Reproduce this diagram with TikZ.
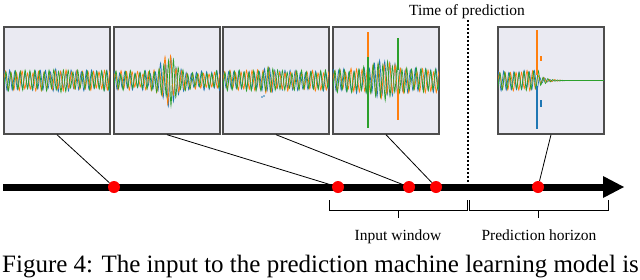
\documentclass[tikz,border=0pt]{standalone}
\usepackage{fontspec}
\setmainfont{Liberation Serif}
\definecolor{cb}{HTML}{1F77B4}
\definecolor{co}{HTML}{FF7F0E}
\definecolor{cg}{HTML}{2CA02C}
\definecolor{panelbg}{HTML}{EAEAF2}
\definecolor{panelbd}{HTML}{4D4D4D}
\begin{document}
\begin{tikzpicture}[x=1pt,y=-1pt,
  panel/.style={draw=panelbd,line width=1.4pt,fill=panelbg,rectangle,inner sep=0pt,minimum width=106pt,minimum height=107pt},
  dot/.style={circle,fill=red,draw=none,inner sep=0pt,minimum size=12pt},
  conn/.style={line width=0.8pt,black},
  brk/.style={line width=1pt,black},
  sigl/.style={line width=0.7pt},
  spike/.style={line width=1.1pt},
  lab/.style={inner sep=0pt,anchor=base,font=\fontsize{15.5}{18}\selectfont}]
\pgfmathsetseed{7}
\useasboundingbox (0,0) rectangle (640,279);
% panels
\node[panel] (p1) at (57,80.5) {};
\node[panel] (p2) at (167,80.5) {};
\node[panel] (p3) at (276,80.5) {};
\node[panel] (p4) at (386,80.5) {};
\node[panel] (p5) at (551,80.5) {};
% signals: zig-zags with random peak heights
\def\sigset{cb/0.0/44,co/0.8/41,cg/1.6/47}
\begin{scope}
\clip (4,27) rectangle (110,134);
\foreach \c/\o/\n in \sigset
  \draw[\c,sigl] plot[smooth,tension=0.4,domain=-2:108,samples=\n] ({4+\x+\o},{80.5+(10.5+1.5*exp(-min(((\x-55)/6)^2,40)))*(0.7+0.3*rnd)*cos(180*((\x+2)/110)*(\n-1))});
\end{scope}
\begin{scope}
\clip (114,27) rectangle (220,134);
\foreach \c/\o/\n in \sigset
  \draw[\c,sigl] plot[smooth,tension=0.4,domain=-2:108,samples=\n] ({114+\x+\o},{80.5+(10+18*exp(-min(((\x-54)/9)^2,40)))*(0.6+0.4*rnd)*cos(180*((\x+2)/110)*(\n-1))});
\end{scope}
\begin{scope}
\clip (223,27) rectangle (329,134);
\foreach \c/\o/\n in \sigset
  \draw[\c,sigl] plot[smooth,tension=0.4,domain=-2:108,samples=\n] ({223+\x+\o},{80.5+(10.5+3.5*exp(-min(((\x-44)/5)^2,40)))*(0.7+0.3*rnd)*cos(180*((\x+2)/110)*(\n-1))});
\fill[cb] (262,97) circle (0.8);
\fill[cb] (264,96) circle (0.8);
\end{scope}
\begin{scope}
\clip (333,27) rectangle (439,134);
\foreach \c/\o/\n in \sigset
  \draw[\c,sigl] plot[smooth,tension=0.4,domain=-2:108,samples=\n] ({333+\x+\o},{80.5+(12.5+8*exp(-min(((\x-50)/16)^2,40)))*(0.65+0.35*rnd)*cos(180*((\x+2)/110)*(\n-1))});
\draw[co,spike] (368,32) -- (368,66);
\draw[cg,spike] (368,57) -- (368,128);
\draw[cg,spike] (398,38) -- (398,70);
\draw[co,spike] (398,90) -- (398,120);
\end{scope}
\begin{scope}
\clip (498,27) rectangle (604,134);
\foreach \c/\o/\n in \sigset
  \draw[\c,sigl] plot[smooth,tension=0.4,domain=-2:108,samples=\n] ({498+\x+\o},{80.5+ifthenelse(\x<39,10.5*(0.7+0.3*rnd),7*(0.6+0.4*rnd)*exp(-min((\x-39)/8,40)))*cos(180*((\x+2)/110)*(\n-1))});
\draw[cg,line width=0.9pt] (560,80.5) -- (604,80.5);
\draw[co,spike] (537,30) -- (537,75);
\draw[cb,spike] (537,86) -- (537,129);
\draw[co,spike] (541,56) -- (541,61);
\draw[cb,spike] (541,100) -- (541,107);
\end{scope}
% borders on top
\foreach \p in {p1,p2,p3,p4,p5}
  \draw[panelbd,line width=1.4pt] (\p.south west) rectangle (\p.north east);
% axis
\coordinate (a0) at (3,187);
\coordinate (a1) at (604,187);
\coordinate (tip) at (624,187);
\draw[line width=7pt] (a0) -- (a1);
\fill (603,176) -- (tip) -- (603,198) -- cycle;
% dots
\node[dot] (d1) at (114,187) {};
\node[dot] (d2) at (338,187) {};
\node[dot] (d3) at (409,187) {};
\node[dot] (d4) at (436,187) {};
\node[dot] (d5) at (538,187) {};
\draw[conn] (p1.south) -- (d1);
\draw[conn] (p2.south) -- (d2);
\draw[conn] (p3.south) -- (d3);
\draw[conn] (p4.south) -- (d4);
\draw[conn] (p5.south) -- (d5);
% time of prediction
\coordinate (dtop) at (468,20);
\coordinate (dbot) at (468,183);
\draw[line width=2pt,dash pattern=on 2pt off 2pt] (dtop) -- (dbot);
\node[lab] (ltp) at (467,15.5) {Time of prediction};
% brackets
\coordinate (b1) at (329,200);
\coordinate (b2) at (467,200);
\coordinate (b3) at (469,200);
\coordinate (b4) at (608,200);
\draw[brk] (b1) -- ++(0,10) -| (b2);
\draw[brk] (b3) -- ++(0,10) -| (b4);
\draw[brk] (398,210) -- (398,218);
\draw[brk] (538,210) -- (538,218);
\node[lab] (lin) at (398,240) {Input window};
\node[lab] (lph) at (539,240) {Prediction horizon};
% caption
\node[inner sep=0pt,anchor=base west,font=\fontsize{25}{28}\selectfont] (cap) at (2,272) {Figure 4: The input to the prediction machine learning model is};
\end{tikzpicture}
\end{document}
